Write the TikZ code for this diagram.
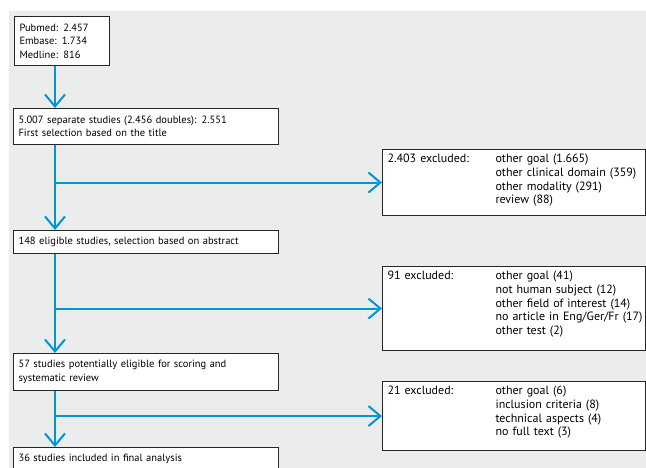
\documentclass[tikz,border=0pt]{standalone}
\usepackage{fontspec}
\setmainfont{PT Sans}
\usetikzlibrary{arrows.meta}

\definecolor{flowblue}{RGB}{0,150,214}
\definecolor{flowgray}{RGB}{235,236,236}
\tikzset{
  stage/.style={draw=black!85,fill=white,line width=1.1pt,anchor=north west,
    align=left,inner xsep=5pt,inner ysep=0pt,font=\fontsize{10.5}{13.5}\selectfont},
  excl/.style={stage,text width=253pt,inner ysep=2pt,text height=11pt,
    font=\fontsize{12}{13.75}\selectfont},
  flow/.style={draw=flowblue,line width=2pt,
    -{Straight Barb[length=12pt,width=20pt]}},
}

\begin{document}
\begin{tikzpicture}[x=1pt,y=-1pt]
      \useasboundingbox (0,0) rectangle (646,468);
      \fill[flowgray] (9,11) rectangle (646,468);
      \coordinate (trunk) at (55,0);
      \node[stage,text width=85pt,minimum height=49pt] (src) at (14,16)
        {Pubmed: 2.457\\Embase: 1.734\\Medline: 816};
      \node[stage,text width=255pt,minimum height=36pt] (b2) at (13,108)
        {5.007 separate studies (2.456 doubles): 2.551\\First selection based on the title};
      \node[stage,text width=255pt,minimum height=23pt] (b3) at (13,230)
        {148 eligible studies, selection based on abstract};
      \node[stage,text width=255pt,minimum height=37pt] (b4) at (13,353)
        {57 studies potentially eligible for scoring and\\systematic review};
      \node[stage,text width=255pt,minimum height=23pt] (b5) at (13,447)
        {36 studies included in final analysis};
      \node[excl,text depth=51pt] (ex1) at (382,149)
        {\begin{tabular}[t]{@{}p{108pt}@{}l@{}}
          2.403 excluded: & other goal (1.665)\\
          & other clinical domain (359)\\
          & other modality (291)\\
          & review (88)
        \end{tabular}};
      \node[excl,text depth=69pt] (ex2) at (382,266)
        {\begin{tabular}[t]{@{}p{108pt}@{}l@{}}
          91 excluded: & other goal (41)\\
          & not human subject (12)\\
          & other field of interest (14)\\
          & no article in Eng/Ger/Fr (17)\\
          & other test (2)
        \end{tabular}};
      \node[excl,text depth=54pt] (ex3) at (382,381)
        {\begin{tabular}[t]{@{}p{108pt}@{}l@{}}
          21 excluded: & other goal (6)\\
          & inclusion criteria (8)\\
          & technical aspects (4)\\
          & no full text (3)
        \end{tabular}};
      \foreach \a/\b in {src/b2,b2/b3,b3/b4,b4/b5} {
        \draw[flow] (\a.south -| trunk) -- (\b.north -| trunk);
      }
      \foreach \a/\e in {b2/ex1,b3/ex2,b4/ex3} {
        \draw[flow] (\e.west -| trunk) -- (\e.west);
      }
    \end{tikzpicture}
\end{document}
